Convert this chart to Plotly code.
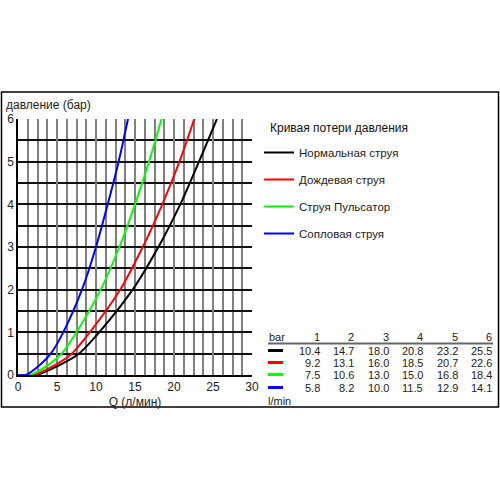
import plotly.graph_objects as go

# pressure loss curves: flow Q (l/min) at 1..6 bar
pressure = [1, 2, 3, 4, 5, 6]
names = ['Нормальная струя', 'Дождевая струя', 'Струя Пульсатор', 'Сопловая струя']
colors = ['#000000', '#ff0000', '#00ff00', '#0000ff']
q_normal = [10.4, 14.7, 18.0, 20.8, 23.2, 25.5]
q_rain = [9.2, 13.1, 16.0, 18.5, 20.7, 22.6]
q_pulse = [7.5, 10.6, 13.0, 15.0, 16.8, 18.4]
q_jet = [5.8, 8.2, 10.0, 11.5, 12.9, 14.1]
# low end of the curves
q_start = [2.3, 1.9, 1.5, 1.0]     # where each curve leaves 0 bar
q_quarter = [5.5, 4.9, 4.0, 2.9]   # flow at 0.25 bar
q_half = [7.8, 6.9, 5.6, 4.2]      # flow at 0.5 bar

series = [q_normal, q_rain, q_pulse, q_jet]

W, H = 500, 500
def px(x):
    return x / W
def py(y):
    return 1 - y / H

fig = go.Figure()
for i, q in enumerate(series):
    fig.add_trace(go.Scatter(
        x=[0, q_start[i], q_quarter[i], q_half[i]] + q,
        y=[0, 0, 0.25, 0.5] + pressure,
        mode='lines', name=names[i], legendgroup=names[i],
        line=dict(color=colors[i], width=2, shape='spline', smoothing=0.8),
    ))

font = 'Liberation Sans, Arial, sans-serif'
fig.update_layout(
    width=W, height=H,
    margin=dict(l=0, r=0, t=0, b=0),
    paper_bgcolor='white', plot_bgcolor='white',
    font=dict(family=font, size=11, color='#222'),
    showlegend=True,
    legend=dict(
        x=px(259), y=py(138), xanchor='left', yanchor='top',
        font=dict(size=11.5, color='#222'),
        tracegroupgap=8, itemwidth=30, bgcolor='rgba(0,0,0,0)',
    ),
    xaxis=dict(
        domain=[px(18), px(252)], range=[0, 30], dtick=5, tick0=0,
        showgrid=True, gridcolor='#808080', gridwidth=2,
        minor=dict(dtick=1.25, showgrid=True, gridcolor='#808080', gridwidth=2),
        zeroline=False, showline=True, linecolor='#000', linewidth=1.5,
        ticks='', tickfont=dict(size=12, color='#222'), automargin=False,
        title=dict(text='Q (л/мин)', font=dict(size=12, color='#222'), standoff=4),
    ),
    yaxis=dict(
        domain=[py(375), py(119)], range=[0, 6], dtick=1, tick0=0,
        showgrid=True, gridcolor='#111', gridwidth=1.5,
        minor=dict(dtick=0.5, showgrid=True, gridcolor='#111', gridwidth=1.5),
        zeroline=False, showline=True, linecolor='#000', linewidth=1.5,
        ticks='', tickfont=dict(size=12, color='#222'), automargin=False,
    ),
)

def note(x, y, text, anchor='left', size=11, color='#222'):
    fig.add_annotation(x=px(x), y=py(y), xref='paper', yref='paper',
                       xanchor=anchor, yanchor='middle', text=text, showarrow=False,
                       font=dict(size=size, color=color))

# y axis title, written horizontally above the axis
note(4, 105, 'давление (бар)', size=12)
# legend heading
note(268, 128, 'Кривая потери давления', size=12, color='#111')

# frame around the whole chart
fig.add_shape(type='rect', xref='paper', yref='paper', x0=px(1.5), x1=px(498.5),
              y0=py(92), y1=py(407), line=dict(color='#000', width=1.5))

# value table
col_x = [322 + 34.4 * k for k in range(6)]
row_y = [350.5, 362.5, 374.5, 387.5]
note(267, 337, 'bar')
for k, p in enumerate(pressure):
    note(col_x[k], 337, str(p), anchor='right')
fig.add_shape(type='line', xref='paper', yref='paper', x0=px(268), x1=px(493),
              y0=py(343.5), y1=py(343.5), line=dict(color='#666', width=2))
for i, q in enumerate(series):
    fig.add_shape(type='line', xref='paper', yref='paper', x0=px(268), x1=px(283),
                  y0=py(row_y[i]), y1=py(row_y[i]), line=dict(color=colors[i], width=3))
    for k, v in enumerate(q):
        note(col_x[k], row_y[i], f'{v:.1f}', anchor='right')
note(266, 401, 'l/min')

# drop the default 8px page margin so the figure fills the window exactly
fig.write_html('out.html', config={'displayModeBar': False},
               post_script="document.body.style.margin='0';")
